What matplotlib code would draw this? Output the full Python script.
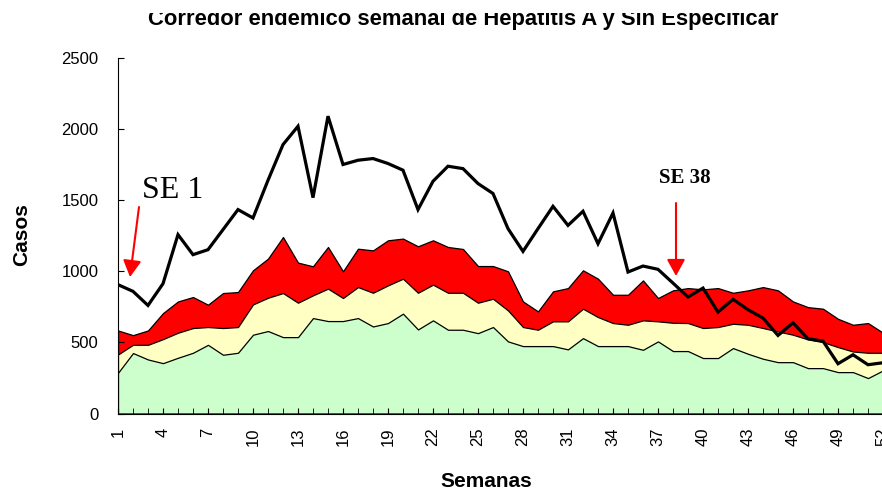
"""
Corredor endémico semanal de Hepatitis A y Sin Especificar.
Values read off the reference chart (weeks 1-52).
"""
import matplotlib
matplotlib.use("Agg")
import matplotlib.pyplot as plt
from matplotlib.patches import Rectangle

plt.rcParams["font.family"] = ["Liberation Sans", "DejaVu Sans"]

semanas = list(range(1, 53))

# upper edge of each zone (cumulative, as drawn)
exito = [286, 425, 380, 354, 392, 427, 483, 413, 427, 554, 580, 537, 537, 671, 650, 650,
         671, 612, 636, 702, 591, 655, 589, 589, 565, 608, 507, 474, 474, 474, 451, 530,
         474, 474, 474, 448, 507, 439, 439, 390, 390, 460, 420, 385, 361, 361, 319, 319,
         291, 291, 249, 303]
seguridad = [415, 483, 483, 523, 568, 601, 608, 601, 608, 767, 814, 847, 779, 831, 878, 812,
             889, 849, 901, 948, 849, 906, 849, 849, 779, 807, 725, 608, 589, 648, 648, 737,
             678, 636, 624, 655, 648, 638, 636, 601, 608, 631, 624, 601, 577, 554, 521, 502,
             467, 436, 427, 427]
alarma = [584, 551, 584, 706, 788, 819, 765, 847, 854, 1007, 1089, 1241, 1061, 1035, 1171, 1000,
          1159, 1147, 1218, 1230, 1176, 1218, 1171, 1157, 1037, 1037, 1000, 788, 718, 859, 882, 1007,
          948, 835, 835, 936, 812, 866, 882, 873, 882, 849, 866, 889, 866, 788, 748, 737,
          666, 624, 636, 568]
casos = [906, 859, 760, 913, 1258, 1117, 1152, 1293, 1434, 1375, 1640, 1891, 2020, 1518, 2091, 1751,
         1781, 1793, 1758, 1711, 1434, 1633, 1739, 1722, 1617, 1547, 1300, 1140, 1300, 1457, 1323, 1422,
         1194, 1410, 995, 1037, 1014, 917, 819, 882, 713, 803, 730, 671, 549, 638, 526, 509,
         350, 413, 343, 357]

fig = plt.figure(figsize=(8.82, 4.90), dpi=100)
ax = fig.add_axes([118 / 882, 76.5 / 490, 765 / 882, 355.5 / 490])

ax.fill_between(semanas, 0, alarma, facecolor="#ff0000", edgecolor="black", linewidth=0.9)
ax.fill_between(semanas, 0, seguridad, facecolor="#ffffc4", edgecolor="black", linewidth=0.9)
ax.fill_between(semanas, 0, exito, facecolor="#ccffcc", edgecolor="black", linewidth=0.9)
ax.plot(semanas, casos, color="black", linewidth=2.3, solid_joinstyle="miter")

ax.set_xlim(1, 52)
ax.set_ylim(0, 2500)
ax.set_yticks(range(0, 2501, 500))
ax.set_xticks(semanas[::3])
ax.set_xticks(semanas, minor=True)
ax.tick_params(axis="y", direction="in", length=4, labelsize=12, pad=14)
ax.tick_params(axis="x", which="both", direction="in", length=4.5, labelsize=12,
               pad=10, labelrotation=90)
for s in ["top", "right"]:
    ax.spines[s].set_visible(False)

fig.text(22 / 882, 1 - 235 / 490, "Casos", rotation=90, fontsize=15, fontweight="bold",
         ha="center", va="center")
fig.text(486 / 882, 1 - 481 / 490, "Semanas", fontsize=15, fontweight="bold",
         ha="center", va="center")
fig.text(463.5 / 882, 1 - 25.5 / 490, "Corredor endémico semanal de Hepatitis A y Sin Especificar",
         fontsize=15.8, fontweight="bold", ha="center", va="baseline")
# the top of the title is cut off in the original
fig.add_artist(Rectangle((0, 1 - 13 / 490), 1, 13 / 490, transform=fig.transFigure,
                         facecolor="white", edgecolor="none", zorder=10))

arrow = dict(arrowstyle="-|>,head_width=0.55,head_length=1.0", color="red", lw=1.5,
             shrinkA=0, shrinkB=0, mutation_scale=10)
ax.annotate("", xy=(1.8, 960), xytext=(2.4, 1452), arrowprops=arrow)
ax.text(2.58, 1515, "SE 1", family="Liberation Serif", fontsize=23, ha="left", va="baseline")
ax.annotate("", xy=(38.2, 967), xytext=(38.2, 1480), arrowprops=arrow)
ax.text(37.07, 1623, "SE 38", family="Liberation Serif", fontsize=15, fontweight="bold",
        ha="left", va="baseline")

plt.savefig("out.png", dpi=100)
